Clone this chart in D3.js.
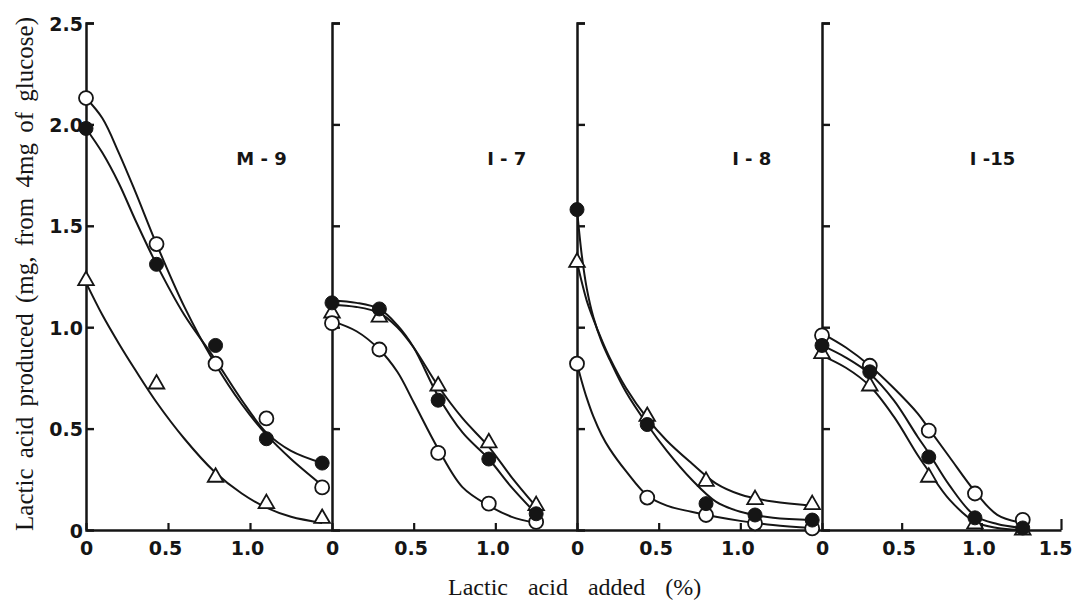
<!DOCTYPE html>
<html>
<head>
<meta charset="utf-8">
<script src="https://cdn.jsdelivr.net/npm/d3@7/dist/d3.min.js"></script>
<style>
  body { margin: 0; background: #fff; }
</style>
</head>
<body>
<div id="chart"></div>
<script>
// strain shown in each panel
var strains = ["M - 9", "I - 7", "I - 8", "I -15"];

// lactic acid added (%) for the samples of each panel
var addedM9  = [0, 0.43, 0.79, 1.10, 1.44];
var addedI7  = [0, 0.29, 0.65, 0.96, 1.25];
var addedI8  = [0, 0.43, 0.79, 1.09, 1.44];
var addedI15 = [0, 0.30, 0.67, 0.96, 1.26];

// lactic acid produced (mg): open circles / filled circles / triangles
var openM9    = [2.13, 1.41, 0.82, 0.55, 0.21];
var filledM9  = [1.98, 1.31, 0.91, 0.45, 0.33];
var triM9     = [1.23, 0.72, 0.26, 0.13, 0.057];

var openI7    = [1.02, 0.89, 0.38, 0.13, 0.04];
var filledI7  = [1.12, 1.09, 0.64, 0.35, 0.08];
var triI7     = [1.07, 1.05, 0.71, 0.43, 0.12];

var openI8    = [0.82, 0.16, 0.074, 0.033, 0.008];
var filledI8  = [1.58, 0.52, 0.13, 0.074, 0.049];
var triI8     = [1.32, 0.56, 0.24, 0.15, 0.125];

var openI15   = [0.96, 0.81, 0.49, 0.18, 0.05];
var filledI15 = [0.91, 0.78, 0.36, 0.06, 0.01];
var triI15    = [0.87, 0.71, 0.26, 0.03, 0.0];

// hand-drawn fitted curves
var fitXM9      = [0, 0.1, 0.2, 0.3, 0.43, 0.6, 0.78, 0.95, 1.1, 1.25, 1.44];
var fitOpenM9   = [2.13, 2.03, 1.86, 1.67, 1.41, 1.10, 0.83, 0.62, 0.47, 0.35, 0.22];
var fitFilledM9 = [1.98, 1.86, 1.71, 1.53, 1.31, 1.06, 0.85, 0.64, 0.48, 0.39, 0.33];
var fitTriM9    = [1.22, 1.06, 0.92, 0.79, 0.63, 0.45, 0.29, 0.18, 0.11, 0.065, 0.035];

var fitXI7      = [0, 0.15, 0.29, 0.4, 0.5, 0.65, 0.8, 0.96, 1.1, 1.25];
var fitOpenI7   = [1.03, 0.98, 0.89, 0.78, 0.63, 0.40, 0.21, 0.12, 0.065, 0.035];
var fitFilledI7 = [1.13, 1.12, 1.09, 1.01, 0.90, 0.66, 0.48, 0.35, 0.21, 0.08];
var fitTriI7    = [1.11, 1.10, 1.07, 1.00, 0.90, 0.71, 0.55, 0.41, 0.26, 0.115];

var fitXI8      = [0, 0.03, 0.06, 0.1, 0.15, 0.2, 0.3, 0.43, 0.55, 0.7, 0.85, 1.0, 1.2, 1.44];
var fitOpenI8   = [0.82, 0.73, 0.65, 0.56, 0.47, 0.40, 0.29, 0.17, 0.12, 0.09, 0.065, 0.045, 0.025, 0.01];
var fitFilledI8 = [1.58, 1.35, 1.19, 1.05, 0.93, 0.84, 0.68, 0.52, 0.39, 0.25, 0.14, 0.09, 0.06, 0.049];
var fitTriI8    = [1.32, 1.22, 1.13, 1.04, 0.94, 0.85, 0.70, 0.55, 0.44, 0.33, 0.23, 0.175, 0.14, 0.12];

var fitXI15      = [0, 0.15, 0.3, 0.45, 0.6, 0.67, 0.8, 0.96, 1.1, 1.26];
var fitOpenI15   = [0.97, 0.90, 0.81, 0.70, 0.575, 0.50, 0.36, 0.19, 0.075, 0.035];
var fitFilledI15 = [0.91, 0.85, 0.77, 0.64, 0.46, 0.38, 0.22, 0.07, 0.03, 0.01];
var fitTriI15    = [0.86, 0.80, 0.71, 0.56, 0.37, 0.29, 0.15, 0.04, 0.01, 0.0];

// tick labels
var yTicks = [0, 0.5, 1.0, 1.5, 2.0, 2.5];
var yTickLabels = ["0", "0.5", "1.0", "1.5", "2.0", "2.5"];
var xTicks = [0, 0.5, 1.0];
var xTickLabels = ["0", "0.5", "1.0"];

var panels = [
  { name: strains[0], x: addedM9,  open: openM9,  filled: filledM9,  tri: triM9,
    fx: fitXM9,  fopen: fitOpenM9,  ffilled: fitFilledM9,  ftri: fitTriM9 },
  { name: strains[1], x: addedI7,  open: openI7,  filled: filledI7,  tri: triI7,
    fx: fitXI7,  fopen: fitOpenI7,  ffilled: fitFilledI7,  ftri: fitTriI7 },
  { name: strains[2], x: addedI8,  open: openI8,  filled: filledI8,  tri: triI8,
    fx: fitXI8,  fopen: fitOpenI8,  ffilled: fitFilledI8,  ftri: fitTriI8 },
  { name: strains[3], x: addedI15, open: openI15, filled: filledI15, tri: triI15,
    fx: fitXI15, fopen: fitOpenI15, ffilled: fitFilledI15, ftri: fitTriI15 }
];

var width = 1073, height = 603;
var span = 1.5; // each panel covers 0 - 1.5 %
var ink = "#151515";
var tickFont = "DejaVu Sans, Liberation Sans, Arial, sans-serif";
var serif = "Liberation Serif, Times New Roman, serif";

var svg = d3.select("#chart").append("svg")
    .attr("width", width)
    .attr("height", height);

// one continuous x scale over the four panels
var x = d3.scaleLinear()
    .domain([0, 1.5, 3, 4.5, 6])
    .range([86, 332, 577, 822, 1061]);

var y = d3.scaleLinear()
    .domain([0, 2.5])
    .range([530, 23]);

var line = d3.line()
    .x(function(d) { return d[0]; })
    .y(function(d) { return d[1]; })
    .curve(d3.curveCatmullRom.alpha(0.5));

panels.forEach(function(p, i) {
  var off = i * span;
  var g = svg.append("g");
  var px = d3.scaleLinear().domain([0, span]).range([x(off), x(off + span)]);

  // fitted curves
  ["fopen", "ffilled", "ftri"].forEach(function(s) {
    var pts = p.fx.map(function(v, k) { return [px(v), y(p[s][k])]; });
    g.append("path")
        .attr("d", line(pts))
        .attr("fill", "none")
        .attr("stroke", ink)
        .attr("stroke-width", 2);
  });

  // y axis, ticks pointing inside
  var ya = g.append("g")
      .attr("transform", "translate(" + x(off) + ",0)")
      .call(d3.axisRight(y).tickValues(yTicks.slice(1)).tickSize(8).tickSizeOuter(8).tickFormat(""));
  ya.select(".domain").attr("stroke", ink).attr("stroke-width", 2.5);
  ya.selectAll(".tick line").attr("stroke", ink).attr("stroke-width", 2.4);

  // x axis, ticks pointing up
  var tv = i == 3 ? xTicks.concat([1.5]) : xTicks;
  var tl = i == 3 ? xTickLabels.concat(["1.5"]) : xTickLabels;
  var xa = g.append("g")
      .attr("transform", "translate(0," + y(0) + ")")
      .call(d3.axisBottom(px).tickValues(tv).tickSizeInner(-7).tickSizeOuter(0).tickPadding(12)
        .tickFormat(function(d, k) { return tl[k]; }));
  xa.select(".domain").attr("stroke", ink).attr("stroke-width", 2.5);
  xa.selectAll(".tick line").attr("stroke", ink).attr("stroke-width", 2.2)
      .attr("y2", function(d) { return d == 1.5 ? -11 : -7; });
  xa.selectAll(".tick text")
      .attr("fill", ink)
      .attr("font-family", tickFont)
      .attr("font-weight", "bold")
      .attr("font-size", 19)
      .attr("text-anchor", function(d) { return d == 1.5 ? "end" : "middle"; })
      .attr("dx", function(d) { return d == 1.5 ? 11 : (d == 0 ? 0 : -3); });

  // markers
  g.selectAll(".tri").data(p.x).enter().append("path")
      .attr("transform", function(v, k) { return "translate(" + px(v) + "," + y(p.tri[k]) + ")"; })
      .attr("d", d3.symbol().type(d3.symbolTriangle).size(105))
      .attr("fill", "#fff").attr("stroke", ink).attr("stroke-width", 1.8);

  g.selectAll(".open").data(p.x).enter().append("circle")
      .attr("cx", function(v) { return px(v); })
      .attr("cy", function(v, k) { return y(p.open[k]); })
      .attr("r", 7)
      .attr("fill", "#fff").attr("stroke", ink).attr("stroke-width", 1.8);

  g.selectAll(".filled").data(p.x).enter().append("circle")
      .attr("cx", function(v) { return px(v); })
      .attr("cy", function(v, k) { return y(p.filled[k]); })
      .attr("r", 7)
      .attr("fill", ink).attr("stroke", ink).attr("stroke-width", 1);

  // strain label
  g.append("text")
      .attr("x", px(1.07))
      .attr("y", y(1.80))
      .attr("text-anchor", "middle")
      .attr("font-family", tickFont)
      .attr("font-weight", "bold")
      .attr("font-size", 18)
      .attr("fill", ink)
      .style("white-space", "pre")
      .text(p.name);
});

// y tick labels on the first panel only
svg.append("g").selectAll("text")
    .data(yTicks).enter().append("text")
    .attr("x", x(0) - 3)
    .attr("y", function(d) { return y(d) + 7.5; })
    .attr("text-anchor", "end")
    .attr("font-family", tickFont)
    .attr("font-weight", "bold")
    .attr("font-size", 19)
    .attr("fill", ink)
    .text(function(d, k) { return yTickLabels[k]; });

// axis titles
svg.append("text")
    .attr("transform", "translate(33,274) rotate(-90)")
    .attr("text-anchor", "middle")
    .attr("font-family", serif)
    .attr("font-size", 25)
    .attr("fill", ink)
    .style("word-spacing", "4px")
    .text("Lactic acid produced (mg, from 4mg of glucose)");

svg.append("text")
    .attr("x", 448)
    .attr("y", 595)
    .attr("text-anchor", "start")
    .attr("font-family", serif)
    .attr("font-size", 24)
    .attr("fill", ink)
    .style("word-spacing", "14px")
    .text("Lactic acid added (%)");
</script>
</body>
</html>
